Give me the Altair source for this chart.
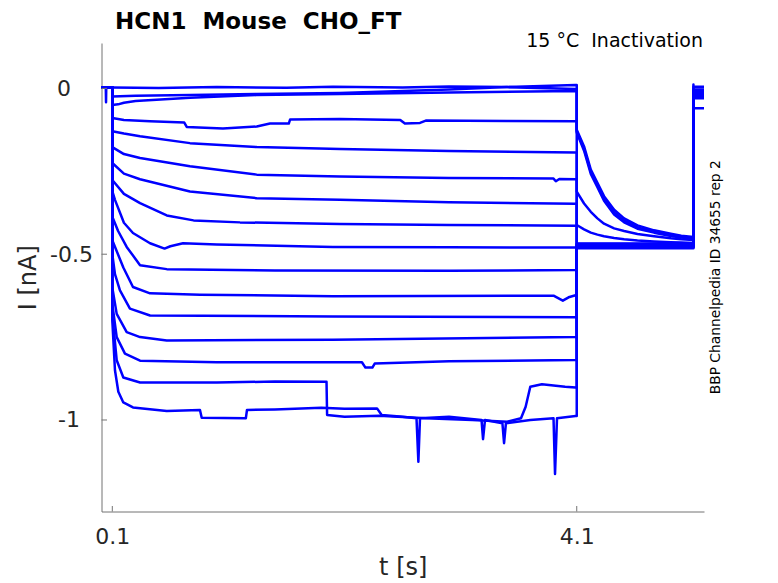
import altair as alt
import pandas as pd

# ---------------- axis ranges / ticks ----------------
T_DOMAIN = [0.007, 5.196]
I_DOMAIN = [-1.276, 0.137]
x_ticks = [0.1, 4.1]
y_ticks = [0, -0.5, -1]

# ---------------- holding level before the step ----------------
pre_t = [0.007, 0.1]
pre_v = [0.003, 0.003]
spike_pre = [(0.044, 0.003), (0.046, -0.042), (0.048, 0.003)]

# ---------------- step (0.1 s .. 4.1 s) traces ----------------
T01 = [(0.1, 0.003), (0.5, 0.001), (1.0, 0.004), (1.6, 0.002), (2.0, 0.005), (2.6, 0.003), (3.0, 0.006), (3.5, 0.004), (4.09, -0.002)]
T02 = [(0.1, -0.024), (0.3, -0.022), (0.77, -0.02), (1.34, -0.017), (2.06, -0.014), (2.6, -0.008), (3.0, -0.003), (3.5, 0.004), (4.09, 0.01)]
T03 = [(0.1, -0.05), (0.15, -0.048), (0.2, -0.043), (0.3, -0.038), (0.77, -0.028), (1.34, -0.02), (2.06, -0.017), (3.0, -0.012), (4.09, -0.008)]
T04 = [(0.1, -0.089), (0.2, -0.095), (0.425, -0.099), (0.72, -0.103), (0.741, -0.116), (1.053, -0.121), (1.344, -0.115), (1.458, -0.106), (1.62, -0.106), (1.631, -0.094), (2.061, -0.092), (2.58, -0.095), (2.62, -0.106), (2.75, -0.104), (2.8, -0.097), (3.5, -0.098), (4.09, -0.099)]
T05 = [(0.1, -0.129), (0.2, -0.136), (0.339, -0.144), (0.769, -0.165), (1.344, -0.177), (2.061, -0.183), (3.0, -0.189), (4.09, -0.193)]
T06 = [(0.1, -0.177), (0.2, -0.198), (0.339, -0.21), (0.769, -0.235), (1.344, -0.26), (2.061, -0.266), (3.0, -0.27), (3.9, -0.272), (3.92, -0.28), (3.95, -0.273), (4.09, -0.274)]
T07 = [(0.1, -0.225), (0.2, -0.257), (0.339, -0.274), (0.769, -0.311), (1.344, -0.331), (2.061, -0.336), (3.0, -0.343), (4.09, -0.348)]
T08 = [(0.1, -0.276), (0.2, -0.318), (0.339, -0.346), (0.569, -0.383), (0.8, -0.398), (1.2, -0.404), (2.061, -0.409), (3.0, -0.412), (4.09, -0.414)]
T09 = [(0.1, -0.31), (0.123, -0.336), (0.2, -0.405), (0.278, -0.436), (0.425, -0.467), (0.55, -0.483), (0.6, -0.476), (0.709, -0.467), (1.0, -0.471), (2.0, -0.478), (3.0, -0.479), (4.09, -0.48)]
T10 = [(0.1, -0.387), (0.15, -0.43), (0.224, -0.478), (0.339, -0.533), (0.569, -0.545), (1.5, -0.549), (3.0, -0.55), (4.09, -0.548)]
T11 = [(0.1, -0.458), (0.195, -0.54), (0.278, -0.599), (0.425, -0.618), (0.855, -0.622), (2.0, -0.627), (3.9, -0.625), (3.98, -0.64), (4.03, -0.63), (4.09, -0.624)]
T12 = [(0.1, -0.5), (0.123, -0.56), (0.166, -0.609), (0.252, -0.664), (0.425, -0.685), (2.0, -0.688), (4.09, -0.69)]
T13 = [(0.1, -0.6), (0.138, -0.68), (0.224, -0.735), (0.339, -0.75), (0.569, -0.76), (2.0, -0.758), (4.09, -0.75)]
T14 = [(0.1, -0.65), (0.138, -0.75), (0.209, -0.8), (0.339, -0.821), (1.0, -0.826), (2.25, -0.826), (2.28, -0.842), (2.34, -0.842), (2.36, -0.83), (3.0, -0.823), (4.09, -0.819)]
T15 = [(0.1, -0.68), (0.138, -0.82), (0.195, -0.872), (0.339, -0.887), (1.0, -0.887), (1.5, -0.884), (1.945, -0.885), (1.95, -0.985), (2.1, -0.99), (2.4, -0.987), (2.8, -0.995), (3.2, -1.0), (3.5, -1.005), (3.62, -0.995), (3.66, -0.96), (3.7, -0.9), (3.8, -0.892), (4.0, -0.9), (4.09, -0.902)]
T16 = [(0.1, -0.7), (0.123, -0.85), (0.152, -0.915), (0.195, -0.947), (0.278, -0.962), (0.569, -0.973), (0.855, -0.97), (0.87, -0.993), (1.25, -0.995), (1.26, -0.97), (1.5, -0.968), (1.9, -0.963), (2.1, -0.966), (2.38, -0.965), (2.42, -0.985), (2.6, -0.99), (2.72, -0.995), (2.736, -1.126), (2.75, -0.995), (3.0, -0.99), (3.28, -1.0), (3.293, -1.058), (3.31, -1.0), (3.46, -1.01), (3.474, -1.07), (3.49, -1.01), (3.7, -1.0), (3.9, -0.995), (3.913, -1.163), (3.93, -0.995), (4.09, -0.988)]

# ---------------- tail (4.1 s .. 5.105 s) ----------------
tail_t = [4.1, 4.163, 4.221, 4.278, 4.335, 4.422, 4.508, 4.623, 4.766, 4.910, 5.0, 5.105]
tail_A1 = [-0.125, -0.175, -0.245, -0.285, -0.325, -0.366, -0.392, -0.413, -0.428, -0.438, -0.444, -0.448]
tail_A2 = [-0.129, -0.182, -0.252, -0.292, -0.333, -0.374, -0.399, -0.419, -0.432, -0.442, -0.447, -0.451]
tail_A3 = [-0.133, -0.188, -0.258, -0.298, -0.339, -0.38, -0.404, -0.423, -0.435, -0.445, -0.45, -0.454]
tail_B = [-0.311, -0.347, -0.372, -0.392, -0.408, -0.422, -0.43, -0.439, -0.446, -0.452, -0.455, -0.457]
tail_C = [-0.412, -0.425, -0.435, -0.441, -0.446, -0.451, -0.455, -0.459, -0.462, -0.464, -0.465, -0.466]
flat_levels = [-0.468, -0.478, -0.472, -0.48, -0.47, -0.476, -0.474, -0.482, -0.469, -0.477, -0.473]

# ---------------- after 5.105 s ----------------
end_t = [5.105, 5.196]
end_v = [-0.005, 0.005, -0.01, -0.015, -0.02, -0.008, -0.025, -0.012, -0.03, -0.018, -0.003, -0.022, -0.028, -0.01, -0.015, -0.06]

steps = [T01, T02, T03, T04, T05, T06, T07, T08, T09, T10, T11, T12, T13, T14, T15, T16]
tails = [tail_A1, tail_A2, tail_A3, tail_B, tail_C] + [[lv] * len(tail_t) for lv in flat_levels]

rows = []
for k, (step, tail, fin) in enumerate(zip(steps, tails, end_v)):
    pts = [(pre_t[0], pre_v[0])]
    if k == 0:
        pts += spike_pre
    pts += [(pre_t[1], pre_v[1])]
    pts += step
    pts += [(tail_t[0], step[-1][1])]
    pts += list(zip(tail_t, tail))
    if k == 0:
        pts += [(end_t[0], 0.012)]
    pts += [(end_t[0], fin), (end_t[1], fin)]
    for i, (t, v) in enumerate(pts):
        rows.append({"trace": f"T{k + 1:02d}", "i": i, "t": t, "v": v})
df = pd.DataFrame(rows)

W, H = 602.5, 468.5
FONT = "DejaVu Sans"
AX = "#737373"
TXT = "#262626"
NB = "\u00a0"

x_scale = alt.Scale(domain=T_DOMAIN, nice=False, zero=False)
y_scale = alt.Scale(domain=I_DOMAIN, nice=False, zero=False)

x_axis = alt.Axis(
    values=x_ticks, labelExpr="format(datum.value, '.1f')", title="t [s]",
    grid=False, ticks=False, tickSize=0, domainColor=AX, domainWidth=1,
    labelFont=FONT, labelFontSize=22, labelColor=TXT, labelBaseline="alphabetic",
    labelPadding=31.5, labelFlush=False, labelOverlap=False,
    titleFont=FONT, titleFontSize=24, titleFontWeight="normal", titleColor=TXT,
    titleX=W / 2, titleY=63, titleAlign="center", titleBaseline="alphabetic",
)
y_axis = alt.Axis(
    values=y_ticks,
    labelExpr="datum.value == 0 ? '0' : (datum.value == -1 ? '-1' : '-0.5')",
    title="I [nA]", grid=False, ticks=False, tickSize=0, domainColor=AX, domainWidth=1,
    labelFont=FONT, labelFontSize=22, labelColor=TXT, labelAlign="right", labelBaseline="middle",
    labelPadding={"condition": [{"test": "datum.value == 0", "value": 31},
                                {"test": "datum.value == -1", "value": 22}], "value": 9},
    labelFlush=False, labelOverlap=False,
    titleFont=FONT, titleFontSize=24, titleFontWeight="normal", titleColor=TXT,
    titleX=-65.8, titleY=H / 2, titleAngle=270, titleAlign="center", titleBaseline="alphabetic",
)

lines = alt.Chart(df).mark_line(color="#0000ff", strokeWidth=2.5, clip=True, strokeJoin="round").encode(
    x=alt.X("t:Q", scale=x_scale, axis=x_axis),
    y=alt.Y("v:Q", scale=y_scale, axis=y_axis),
    detail="trace:N",
    order="i:Q",
)

ytick_marks = alt.Chart(pd.DataFrame({"v": y_ticks})).mark_rule(color=AX, strokeWidth=1).encode(
    y=alt.Y("v:Q", scale=y_scale, axis=y_axis), x=alt.value(0), x2=alt.value(5.5)
)
xtick_marks = alt.Chart(pd.DataFrame({"t": x_ticks})).mark_rule(color=AX, strokeWidth=1).encode(
    x=alt.X("t:Q", scale=x_scale, axis=x_axis), y=alt.value(H), y2=alt.value(H - 5.5)
)

one = pd.DataFrame({"a": [0]})
title_txt = alt.Chart(one).mark_text(
    text=f"HCN1 {NB}Mouse {NB}CHO_FT", font=FONT, fontSize=23, fontWeight="bold", color="#000000",
    align="left", baseline="alphabetic"
).encode(x=alt.value(13.5), y=alt.value(-14.2))
cond_txt = alt.Chart(one).mark_text(
    text=f"15 °C {NB}Inactivation", font=FONT, fontSize=19, color="#000000",
    align="right", baseline="alphabetic"
).encode(x=alt.value(W - 1), y=alt.value(3.7))
side_txt = alt.Chart(one).mark_text(
    text="BBP Channelpedia ID 34655 rep 2", font=FONT, fontSize=13.8, color="#000000",
    align="center", baseline="alphabetic", angle=270
).encode(x=alt.value(618), y=alt.value(H / 2))

chart = alt.layer(lines, ytick_marks, xtick_marks, title_txt, cond_txt, side_txt).properties(
    width=W, height=H,
    autosize=alt.AutoSizeParams(type="none"),
    padding={"left": 93.5, "top": 35, "right": 60, "bottom": 68},
    background="white",
).configure_view(stroke=None)

chart.save("out.html", embed_options={"renderer": "svg", "actions": False})
